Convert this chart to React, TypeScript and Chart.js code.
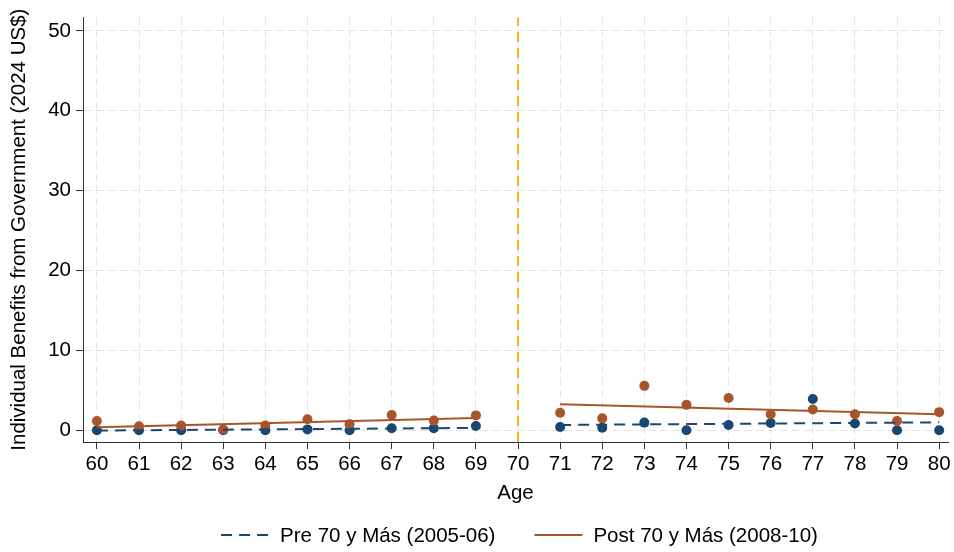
import React, { useEffect, useRef } from "react";
import { Chart, registerables } from "chart.js";

Chart.register(...registerables);

// ---- Data ----
const ages = [60, 61, 62, 63, 64, 65, 66, 67, 68, 69, 71, 72, 73, 74, 75, 76, 77, 78, 79, 80];
const preValues = [0.0, 0.0, 0.0, 0.0, 0.0, 0.1, 0.0, 0.25, 0.25, 0.53, 0.4, 0.3, 0.95, 0.0, 0.65, 0.9, 3.9, 0.83, 0.0, 0.0];
const postValues = [1.15, 0.5, 0.58, 0.08, 0.58, 1.36, 0.74, 1.9, 1.2, 1.85, 2.18, 1.48, 5.55, 3.17, 4.03, 2.0, 2.6, 2.0, 1.15, 2.26];

const fitLeftAges = [60, 69];
const fitRightAges = [71, 80];
const preFitLeft = [-0.04, 0.28];
const preFitRight = [0.65, 0.98];
const postFitLeft = [0.37, 1.52];
const postFitRight = [3.25, 2.0];

const cutoffAge = 70;
const xTicks = [60, 61, 62, 63, 64, 65, 66, 67, 68, 69, 70, 71, 72, 73, 74, 75, 76, 77, 78, 79, 80];
const yTicks = [0, 10, 20, 30, 40, 50];

const preLabel = "Pre 70 y Más (2005-06)";
const postLabel = "Post 70 y Más (2008-10)";
const xTitle = "Age";
const yTitle = "Individual Benefits from Government (2024 US$)";

// ---- Styles ----
const NAVY = "#1a476f";
const SIENNA = "#a8552b";
const GOLD = "#f5b41c";
const GRID = "#e4e4e4";
const AXIS = "#333333";
const FONT = "Arial, 'Liberation Sans', Helvetica, sans-serif";
const FS = 20.5;
const X_MIN = 59.67;
const X_MAX = 80.21;
const Y_MIN = -1.48;
const Y_MAX = 51.7;

const toPts = (xs: number[], ys: number[]) => xs.map((x, i) => ({ x, y: ys[i] }));

const legendPlugin = {
  id: "customLegend",
  afterDraw(chart: any) {
    const { ctx, chartArea } = chart;
    const items = [
      { text: preLabel, color: NAVY, dash: [11, 7] },
      { text: postLabel, color: SIENNA, dash: [] as number[] },
    ];
    const lineLen = 48;
    const gap = 11;
    const itemGap = 39;
    ctx.save();
    ctx.font = `${FS}px ${FONT}`;
    const widths = items.map((it) => ctx.measureText(it.text).width);
    const total = widths.reduce((a, w) => a + lineLen + gap + w, 0) + itemGap * (items.length - 1);
    const cx = (chartArea.left + chartArea.right) / 2 + 4;
    let x = cx - total / 2;
    const y = 535;
    items.forEach((it, i) => {
      ctx.beginPath();
      ctx.strokeStyle = it.color;
      ctx.lineWidth = 2;
      ctx.setLineDash(it.dash);
      ctx.moveTo(x, y);
      ctx.lineTo(x + lineLen, y);
      ctx.stroke();
      ctx.setLineDash([]);
      ctx.fillStyle = "#000";
      ctx.textBaseline = "middle";
      ctx.textAlign = "left";
      ctx.fillText(it.text, x + lineLen + gap, y + 1);
      x += lineLen + gap + widths[i] + itemGap;
    });
    ctx.restore();
  },
};

export default function App() {
  const ref = useRef<HTMLCanvasElement | null>(null);

  useEffect(() => {
    if (!ref.current) return;
    const lineBase = {
      type: "line" as const,
      pointRadius: 0,
      borderWidth: 2,
      tension: 0,
      fill: false,
    };
    const chart = new Chart(ref.current, {
      type: "scatter",
      data: {
        datasets: [
          {
            ...lineBase,
            label: "Pre fit left",
            data: toPts(fitLeftAges, preFitLeft),
            borderColor: NAVY,
            borderDash: [11, 7],
            order: 1,
          },
          {
            ...lineBase,
            label: "Pre fit right",
            data: toPts(fitRightAges, preFitRight),
            borderColor: NAVY,
            borderDash: [11, 7],
            order: 1,
          },
          {
            ...lineBase,
            label: "Post fit left",
            data: toPts(fitLeftAges, postFitLeft),
            borderColor: SIENNA,
            order: 1,
          },
          {
            ...lineBase,
            label: "Post fit right",
            data: toPts(fitRightAges, postFitRight),
            borderColor: SIENNA,
            order: 1,
          },
          {
            type: "scatter" as const,
            label: "Post",
            data: toPts(ages, postValues),
            backgroundColor: SIENNA,
            borderWidth: 0,
            pointRadius: 5,
            order: 5,
          },
          {
            type: "scatter" as const,
            label: "Pre",
            data: toPts(ages, preValues),
            backgroundColor: NAVY,
            borderWidth: 0,
            pointRadius: 5,
            order: 6,
          },
          {
            ...lineBase,
            label: "Cutoff",
            data: [
              { x: cutoffAge, y: Y_MIN },
              { x: cutoffAge, y: Y_MAX },
            ],
            borderColor: GOLD,
            borderWidth: 2,
            borderDash: [10, 6],
            order: 10,
          },
        ] as any,
      },
      options: {
        animation: false,
        responsive: false,
        layout: { padding: { top: 11, right: 6, left: 0, bottom: 46 } },
        plugins: {
          legend: { display: false },
          tooltip: { enabled: false },
        },
        scales: {
          x: {
            type: "linear",
            min: X_MIN,
            max: X_MAX,
            afterBuildTicks: (s: any) => {
              s.ticks = xTicks.map((v) => ({ value: v }));
            },
            afterFit: (s: any) => {
              s.height = 64;
            },
            grid: {
              color: GRID,
              lineWidth: 1,
              drawTicks: true,
              tickLength: 7,
              tickColor: AXIS,
              tickWidth: 1,
            },
            border: { display: true, color: AXIS, width: 1, dash: [8, 4] },
            ticks: {
              color: "#000",
              font: { family: FONT, size: FS },
              padding: 3,
              maxRotation: 0,
              autoSkip: false,
              callback: (v: any) => String(v),
            },
            title: {
              display: true,
              text: xTitle,
              color: "#000",
              font: { family: FONT, size: FS },
              padding: { top: 0, bottom: 0 },
            },
          },
          y: {
            type: "linear",
            min: Y_MIN,
            max: Y_MAX,
            afterBuildTicks: (s: any) => {
              s.ticks = yTicks.map((v) => ({ value: v }));
            },
            afterFit: (s: any) => {
              s.width = 83;
            },
            grid: {
              color: GRID,
              lineWidth: 1,
              drawTicks: true,
              tickLength: 7,
              tickColor: AXIS,
              tickWidth: 1,
            },
            border: { display: true, color: AXIS, width: 1, dash: [8, 4] },
            ticks: {
              color: "#000",
              font: { family: FONT, size: FS },
              padding: 5,
              callback: (v: any) => String(v),
            },
            title: {
              display: true,
              text: yTitle,
              color: "#000",
              font: { family: FONT, size: FS },
              padding: { top: 7, bottom: 0 },
            },
          },
        },
      },
      plugins: [legendPlugin],
    });
    return () => chart.destroy();
  }, []);

  return (
    <div style={{ position: "fixed", left: 0, top: 0, width: 954, height: 552, background: "#fff" }}>
      <canvas ref={ref} width={954} height={552} style={{ display: "block" }} />
    </div>
  );
}
